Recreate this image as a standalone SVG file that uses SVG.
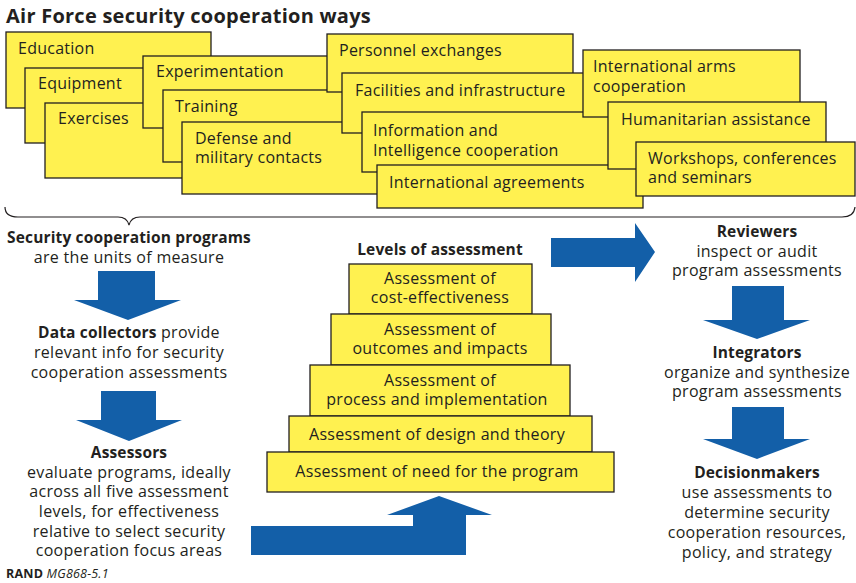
<svg xmlns="http://www.w3.org/2000/svg" width="856" height="583" viewBox="0 0 856 583">
<style>
text{font-family:"Open Sans","Noto Sans","Liberation Sans",sans-serif;fill:#231f20;}
.t{font-size:20px;font-weight:bold;letter-spacing:0.25px;}
.bx{fill:#fff150;stroke:#231f20;stroke-width:1.3;}
.bt{font-size:16px;letter-spacing:0.25px;}
.lt{font-size:16px;letter-spacing:0.3px;}
.c{text-anchor:middle;}
.b{font-weight:bold;font-size:15.5px;letter-spacing:0.15px;}
.ar{fill:#135fa8;}
.br{fill:none;stroke:#231f20;stroke-width:1.2;}
</style>
<rect width="856" height="583" fill="#ffffff"/>
<text class="t" x="6" y="23">Air Force security cooperation ways</text>

<g id="ways">
<g id="education"><rect class="bx" x="6" y="32" width="205" height="76"/><text class="bt" x="18" y="54">Education</text></g>
<g id="equipment"><rect class="bx" x="25" y="68" width="220" height="75"/><text class="bt" x="38" y="89">Equipment</text></g>
<g id="exercises"><rect class="bx" x="45" y="103" width="250" height="75"/><text class="bt" x="58" y="124">Exercises</text></g>
<g id="experimentation"><rect class="bx" x="143" y="56" width="210" height="72"/><text class="bt" x="156" y="77">Experimentation</text></g>
<g id="training"><rect class="bx" x="163" y="90" width="210" height="72"/><text class="bt" x="175" y="112">Training</text></g>
<g id="defense"><rect class="bx" x="182" y="122" width="220" height="72"/><text class="bt" x="195" y="144">Defense and</text><text class="bt" x="195" y="163">military contacts</text></g>
<g id="personnel"><rect class="bx" x="327" y="34" width="246" height="58"/><text class="bt" x="339" y="56">Personnel exchanges</text></g>
<g id="facilities"><rect class="bx" x="342" y="73" width="262" height="60"/><text class="bt" x="355" y="96">Facilities and infrastructure</text></g>
<g id="information"><rect class="bx" x="362" y="112" width="258" height="60"/><text class="bt" x="373" y="136">Information and</text><text class="bt" x="373" y="156">Intelligence cooperation</text></g>
<g id="agreements"><rect class="bx" x="377" y="165" width="266" height="43"/><text class="bt" x="389" y="188">International agreements</text></g>
<g id="arms"><rect class="bx" x="583" y="50" width="217" height="67"/><text class="bt" x="593" y="72">International arms</text><text class="bt" x="593" y="92">cooperation</text></g>
<g id="humanitarian"><rect class="bx" x="608" y="102" width="218" height="67"/><text class="bt" x="621" y="125">Humanitarian assistance</text></g>
<g id="workshops"><rect class="bx" x="636" y="142" width="219" height="54"/><text class="bt" x="648" y="164">Workshops, conferences</text><text class="bt" x="648" y="183">and seminars</text></g>
</g>

<path class="br" d="M5,207 Q5,217 18,217 L118,217 Q127,217 129,225 Q131,217 140,217 L842,217 Q854,217 855,207"/>

<g id="programs"><text class="lt c b" x="129" y="243">Security cooperation programs</text><text class="lt c" x="129" y="263">are the units of measure</text></g>
<g id="collectors"><text class="lt c" x="129" y="338"><tspan class="b">Data collectors</tspan> provide</text><text class="lt c" x="129" y="358">relevant info for security</text><text class="lt c" x="129" y="378">cooperation assessments</text></g>
<g id="assessors"><text class="lt c b" x="129" y="458">Assessors</text><text class="lt c" x="129" y="478">evaluate programs, ideally</text><text class="lt c" x="129" y="497">across all five assessment</text><text class="lt c" x="129" y="517">levels, for effectiveness</text><text class="lt c" x="129" y="537">relative to select security</text><text class="lt c" x="129" y="556">cooperation focus areas</text></g>

<g id="levels">
<text class="lt c b" x="440" y="255">Levels of assessment</text>
<g id="lvl5"><rect class="bx" x="349" y="264" width="183" height="50"/><text class="lt c" x="440" y="284">Assessment of</text><text class="lt c" x="440" y="303">cost-effectiveness</text></g>
<g id="lvl4"><rect class="bx" x="331" y="314" width="220" height="51"/><text class="lt c" x="440" y="335">Assessment of</text><text class="lt c" x="440" y="354">outcomes and impacts</text></g>
<g id="lvl3"><rect class="bx" x="310" y="365" width="260" height="51"/><text class="lt c" x="440" y="386">Assessment of</text><text class="lt c" x="437" y="405">process and implementation</text></g>
<g id="lvl2"><rect class="bx" x="289" y="416" width="303" height="36"/><text class="lt c" x="437" y="440">Assessment of design and theory</text></g>
<g id="lvl1"><rect class="bx" x="267" y="452" width="347" height="40"/><text class="lt c" x="437" y="477">Assessment of need for the program</text></g>
</g>

<g id="reviewers"><text class="lt c b" x="757" y="237">Reviewers</text><text class="lt c" x="757" y="257">inspect or audit</text><text class="lt c" x="757" y="276">program assessments</text></g>
<g id="integrators"><text class="lt c b" x="757" y="358">Integrators</text><text class="lt c" x="757" y="378">organize and synthesize</text><text class="lt c" x="757" y="397">program assessments</text></g>
<g id="decisionmakers"><text class="lt c b" x="757" y="478">Decisionmakers</text><text class="lt c" x="757" y="498">use assessments to</text><text class="lt c" x="757" y="518">determine security</text><text class="lt c" x="757" y="538">cooperation resources,</text><text class="lt c" x="757" y="558">policy, and strategy</text></g>

<g id="connectors">
<polygon class="ar" points="98,271 155,271 155,300 181,300 128,320 74,300 98,300"/>
<polygon class="ar" points="101,391 156,391 156,420 182,420 129,441 76,420 101,420"/>
<polygon class="ar" points="251,526 413,526 413,515 387,515 439,496 492,515 466,515 466,555 251,555"/>
<polygon class="ar" points="551,238 635,238 635,223 655,252 635,282 635,267 551,267"/>
<polygon class="ar" points="732,286 784,286 784,320 810,320 757,339 703,320 732,320"/>
<polygon class="ar" points="732,407 784,407 784,439 810,439 757,459 703,439 732,439"/>
</g>

<text x="6" y="578" style="font-size:12.5px;letter-spacing:0.2px"><tspan style="font-weight:bold">RAND</tspan> <tspan style="font-style:italic">MG868-5.1</tspan></text>
</svg>
